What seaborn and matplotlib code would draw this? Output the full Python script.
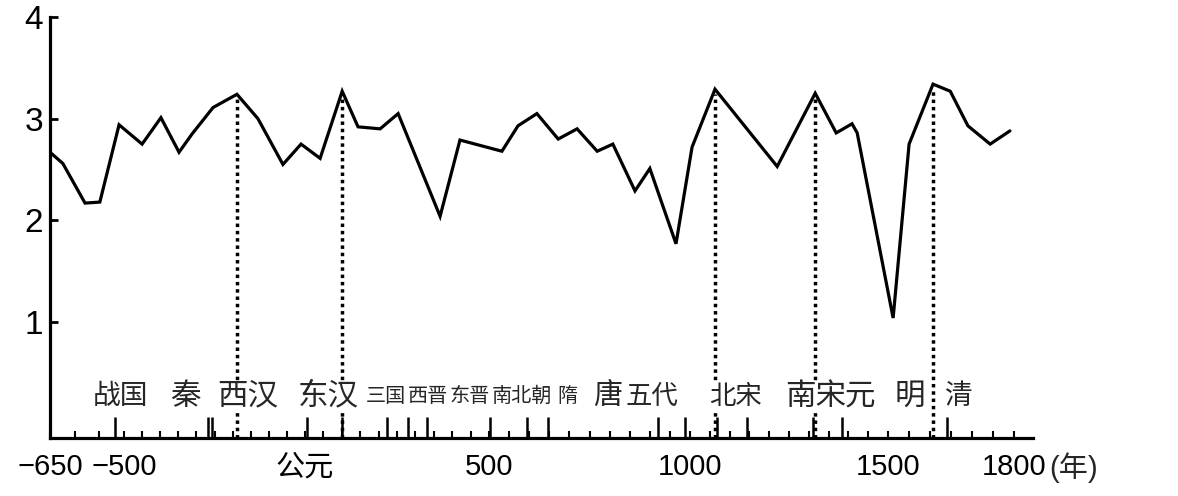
import numpy as np
import pandas as pd
import matplotlib
matplotlib.use("Agg")
import matplotlib.pyplot as plt
import seaborn as sns
from matplotlib.ticker import FixedLocator, MultipleLocator

# ---------------- data ----------------
years = [-650, -624, -579, -549, -510, -450, -398, -348, -312, -254, -188, -130,
         -61, -11, 41, 101, 144, 204, 253, 367, 421, 532, 572, 619, 672, 719,
         769, 808, 863, 900, 965, 1005, 1063, 1220, 1316, 1369, 1409, 1422,
         1512, 1550, 1607, 1648, 1690, 1743, 1790]
values = [2.67, 2.56, 2.17, 2.18, 2.94, 2.75, 3.01, 2.67, 2.85, 3.11, 3.24, 3.00,
          2.55, 2.75, 2.61, 3.27, 2.92, 2.90, 3.05, 2.04, 2.79, 2.68, 2.93, 3.05,
          2.80, 2.90, 2.68, 2.75, 2.29, 2.51, 1.77, 2.72, 3.29, 2.53, 3.25, 2.86,
          2.95, 2.86, 1.04, 2.75, 3.34, 3.27, 2.93, 2.75, 2.88]

dynasties = ["战国", "秦", "西汉", "东汉", "三国", "西晋", "东晋", "南北朝", "隋",
             "唐", "五代", "北宋", "南宋", "元", "明", "清"]
dynasty_label_years = [-508, -329, -157, 62, 220, 334, 448, 582, 694, 794, 905,
                       1114, 1316, 1429, 1552, 1667]
boundary_years = [-518, -268, -257, 5, 101, 223, 280, 332, 502, 595, 647, 920,
                  988, 1068, 1144, 1311, 1384, 1640]
peak_years = [-188, 101, 1063, 1316, 1607]

tick_years = [-650, -500, 0, 500, 1000, 1500, 1800]
tick_labels = ["\u2212650", "\u2212500", "公元", "500", "1000", "1500", "1800"]
y_ticks = [1, 2, 3, 4]

# the original chart's time axis is drawn non-uniformly: anchor years -> axis position
scale_years = [-650, -500, 0, 500, 1000, 1500, 1800]
scale_pos = [50, 124, 305, 489, 690, 888, 1014]

# ---------------- style ----------------
label_sizes = [20, 22, 22, 22, 14.5, 14.5, 14.5, 14.5, 14.5, 21, 19, 19, 22, 22,
               22, 20]

sns.set_style("white")
plt.rcParams["font.family"] = ["Liberation Sans", "Noto Sans CJK SC", "DejaVu Sans"]
plt.rcParams["axes.unicode_minus"] = True

sy = np.array(scale_years, float)
sp = np.array(scale_pos, float)
s0 = (sp[1] - sp[0]) / (sy[1] - sy[0])
s1 = (sp[-1] - sp[-2]) / (sy[-1] - sy[-2])


def fwd(x):
    x = np.asarray(x, float)
    return np.where(x < sy[0], sp[0] + (x - sy[0]) * s0,
                    np.where(x > sy[-1], sp[-1] + (x - sy[-1]) * s1,
                             np.interp(x, sy, sp)))


def inv(p):
    p = np.asarray(p, float)
    return np.where(p < sp[0], sy[0] + (p - sp[0]) / s0,
                    np.where(p > sp[-1], sy[-1] + (p - sp[-1]) / s1,
                             np.interp(p, sp, sy)))


df = pd.DataFrame({"year": years, "value": values})

fig = plt.figure(figsize=(11.78, 4.96), dpi=100)
ax = fig.add_axes([50 / 1178, 58 / 496, 983 / 1178, 421 / 496])
ax.set_xscale("function", functions=(fwd, inv))

sns.lineplot(data=df, x="year", y="value", ax=ax, color="black", lw=2.3,
             solid_joinstyle="miter", zorder=4)

ax.set_xlim(-650, 1845)
ax.set_ylim(-0.14, 4.0)

# dotted drop lines from the peaks
peak_vals = np.interp(peak_years, years, values)
ax.vlines(peak_years, -0.14, peak_vals - 0.05, colors="black", lw=2.5,
          linestyles=[(0, (1, 1.1))], zorder=2)

# dynasty boundary ticks
ax.vlines(boundary_years, 0, 0.05, transform=ax.get_xaxis_transform(),
          colors="black", lw=1.8, zorder=3)

# dynasty names
for name, yr, sz in zip(dynasties, dynasty_label_years, label_sizes):
    ax.text(yr, 0.27, name, ha="center", va="center", fontsize=sz,
            family=["Noto Sans CJK SC"], zorder=5,
            bbox=dict(fc="white", ec="none", pad=0.0))

# axes styling
for s in ["top", "right"]:
    ax.spines[s].set_visible(False)
for s in ["left", "bottom"]:
    ax.spines[s].set_linewidth(2.3)
    ax.spines[s].set_color("black")

ax.xaxis.set_major_locator(FixedLocator(tick_years))
ax.set_xticklabels(tick_labels)
ax.xaxis.set_minor_locator(MultipleLocator(50))
ax.tick_params(axis="x", which="major", bottom=True, direction="in", length=5,
               width=1.5, pad=11, labelsize=21, colors="black")
ax.tick_params(axis="x", which="minor", bottom=True, direction="in", length=5,
               width=1.5, colors="black")
ax.set_yticks(y_ticks)
ax.tick_params(axis="y", left=True, direction="in", length=6, width=2, pad=5,
               labelsize=24, colors="black")
ax.set_xlabel("")
ax.set_ylabel("")
ax.grid(False)

ax.annotate("(年)", xy=(1800, 0), xycoords=("data", "axes fraction"),
            xytext=(25, -21.5), textcoords="offset points", ha="left",
            va="center", fontsize=21)

fig.savefig("out.png", dpi=100, facecolor="white")
